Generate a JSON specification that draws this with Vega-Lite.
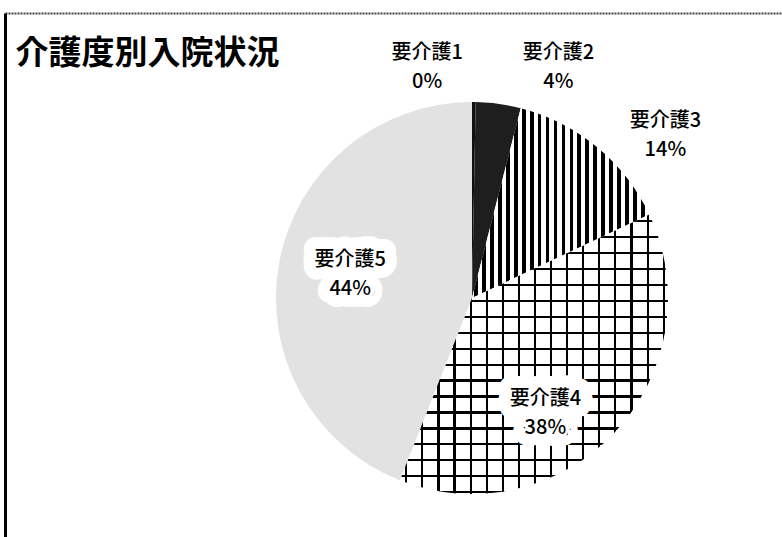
{
  "$schema": "https://vega.github.io/schema/vega-lite/v6.json",
  "width": 782,
  "height": 537,
  "autosize": {"type": "fit", "contains": "padding"},
  "padding": {"left": 5, "top": 13, "right": 0, "bottom": 0},
  "background": "white",
  "data": {
    "values": [
      {"level": "要介護1", "share": 0.3},
      {"level": "要介護2", "share": 3.7},
      {"level": "要介護3", "share": 14},
      {"level": "要介護4", "share": 38},
      {"level": "要介護5", "share": 44}
    ]
  },
  "transform": [
    {"calculate": "datum.level + '\\n' + format(datum.share / 100, '.0%')", "as": "label"}
  ],
  "encoding": {
    "x": {
      "datum": 0.601,
      "type": "quantitative",
      "scale": {"domain": [0, 1]},
      "axis": {
        "orient": "top",
        "domainDash": [2, 1],
        "domainWidth": 2,
        "domainColor": "#444",
        "title": "介護度別入院状況",
        "titleX": 10,
        "titleY": 40,
        "titleAlign": "left",
        "titleAnchor": "start",
        "titleBaseline": "middle",
        "titleFont": "Noto Sans CJK JP",
        "titleFontSize": 33,
        "titleFontWeight": "bold",
        "titleColor": "black"
      }
    },
    "y": {
      "datum": 0.456,
      "type": "quantitative",
      "scale": {"domain": [0, 1]},
      "axis": {"orient": "left", "domainWidth": 3, "domainColor": "black"}
    },
    "theta": {"field": "share", "type": "quantitative", "stack": true},
    "order": {"field": "level", "type": "ordinal", "sort": "ascending"}
  },
  "layer": [
    {
      "mark": {"type": "arc", "outerRadius": 196},
      "encoding": {
        "fill": {
          "condition": [
            {"test": "datum.level === '要介護1'", "value": "#111111"},
            {"test": "datum.level === '要介護2'", "value": "#1e1e1e"},
            {
              "test": "datum.level === '要介護3'",
              "value": {
                "gradient": "linear", "x1": 0, "y1": 0, "x2": 1, "y2": 0,
                "stops": [
                  {"offset": 0, "color": "white"},
                  {"offset": 0.010, "color": "white"}, {"offset": 0.010, "color": "black"}, {"offset": 0.032, "color": "black"}, {"offset": 0.032, "color": "white"},
                  {"offset": 0.055, "color": "white"}, {"offset": 0.055, "color": "black"}, {"offset": 0.077, "color": "black"}, {"offset": 0.077, "color": "white"},
                  {"offset": 0.100, "color": "white"}, {"offset": 0.100, "color": "black"}, {"offset": 0.122, "color": "black"}, {"offset": 0.122, "color": "white"},
                  {"offset": 0.145, "color": "white"}, {"offset": 0.145, "color": "black"}, {"offset": 0.167, "color": "black"}, {"offset": 0.167, "color": "white"},
                  {"offset": 0.190, "color": "white"}, {"offset": 0.190, "color": "black"}, {"offset": 0.212, "color": "black"}, {"offset": 0.212, "color": "white"},
                  {"offset": 0.235, "color": "white"}, {"offset": 0.235, "color": "black"}, {"offset": 0.257, "color": "black"}, {"offset": 0.257, "color": "white"},
                  {"offset": 0.280, "color": "white"}, {"offset": 0.280, "color": "black"}, {"offset": 0.302, "color": "black"}, {"offset": 0.302, "color": "white"},
                  {"offset": 0.325, "color": "white"}, {"offset": 0.325, "color": "black"}, {"offset": 0.347, "color": "black"}, {"offset": 0.347, "color": "white"},
                  {"offset": 0.370, "color": "white"}, {"offset": 0.370, "color": "black"}, {"offset": 0.392, "color": "black"}, {"offset": 0.392, "color": "white"},
                  {"offset": 0.415, "color": "white"}, {"offset": 0.415, "color": "black"}, {"offset": 0.437, "color": "black"}, {"offset": 0.437, "color": "white"},
                  {"offset": 0.460, "color": "white"}, {"offset": 0.460, "color": "black"}, {"offset": 0.482, "color": "black"}, {"offset": 0.482, "color": "white"},
                  {"offset": 0.505, "color": "white"}, {"offset": 0.505, "color": "black"}, {"offset": 0.527, "color": "black"}, {"offset": 0.527, "color": "white"},
                  {"offset": 0.550, "color": "white"}, {"offset": 0.550, "color": "black"}, {"offset": 0.572, "color": "black"}, {"offset": 0.572, "color": "white"},
                  {"offset": 0.595, "color": "white"}, {"offset": 0.595, "color": "black"}, {"offset": 0.617, "color": "black"}, {"offset": 0.617, "color": "white"},
                  {"offset": 0.640, "color": "white"}, {"offset": 0.640, "color": "black"}, {"offset": 0.662, "color": "black"}, {"offset": 0.662, "color": "white"},
                  {"offset": 0.685, "color": "white"}, {"offset": 0.685, "color": "black"}, {"offset": 0.707, "color": "black"}, {"offset": 0.707, "color": "white"},
                  {"offset": 0.730, "color": "white"}, {"offset": 0.730, "color": "black"}, {"offset": 0.752, "color": "black"}, {"offset": 0.752, "color": "white"},
                  {"offset": 0.775, "color": "white"}, {"offset": 0.775, "color": "black"}, {"offset": 0.797, "color": "black"}, {"offset": 0.797, "color": "white"},
                  {"offset": 0.820, "color": "white"}, {"offset": 0.820, "color": "black"}, {"offset": 0.842, "color": "black"}, {"offset": 0.842, "color": "white"},
                  {"offset": 0.865, "color": "white"}, {"offset": 0.865, "color": "black"}, {"offset": 0.887, "color": "black"}, {"offset": 0.887, "color": "white"},
                  {"offset": 0.910, "color": "white"}, {"offset": 0.910, "color": "black"}, {"offset": 0.932, "color": "black"}, {"offset": 0.932, "color": "white"},
                  {"offset": 0.955, "color": "white"}, {"offset": 0.955, "color": "black"}, {"offset": 0.977, "color": "black"}, {"offset": 0.977, "color": "white"},
                  {"offset": 1, "color": "white"}
                ]
              }
            },
            {
              "test": "datum.level === '要介護4'",
              "value": {
                "gradient": "linear", "x1": 0, "y1": 0, "x2": 0, "y2": 1,
                "stops": [
                  {"offset": 0, "color": "white"},
                  {"offset": 0.020, "color": "white"}, {"offset": 0.020, "color": "black"}, {"offset": 0.028, "color": "black"}, {"offset": 0.028, "color": "white"},
                  {"offset": 0.077, "color": "white"}, {"offset": 0.077, "color": "black"}, {"offset": 0.085, "color": "black"}, {"offset": 0.085, "color": "white"},
                  {"offset": 0.134, "color": "white"}, {"offset": 0.134, "color": "black"}, {"offset": 0.142, "color": "black"}, {"offset": 0.142, "color": "white"},
                  {"offset": 0.191, "color": "white"}, {"offset": 0.191, "color": "black"}, {"offset": 0.199, "color": "black"}, {"offset": 0.199, "color": "white"},
                  {"offset": 0.248, "color": "white"}, {"offset": 0.248, "color": "black"}, {"offset": 0.256, "color": "black"}, {"offset": 0.256, "color": "white"},
                  {"offset": 0.305, "color": "white"}, {"offset": 0.305, "color": "black"}, {"offset": 0.313, "color": "black"}, {"offset": 0.313, "color": "white"},
                  {"offset": 0.362, "color": "white"}, {"offset": 0.362, "color": "black"}, {"offset": 0.370, "color": "black"}, {"offset": 0.370, "color": "white"},
                  {"offset": 0.419, "color": "white"}, {"offset": 0.419, "color": "black"}, {"offset": 0.427, "color": "black"}, {"offset": 0.427, "color": "white"},
                  {"offset": 0.476, "color": "white"}, {"offset": 0.476, "color": "black"}, {"offset": 0.484, "color": "black"}, {"offset": 0.484, "color": "white"},
                  {"offset": 0.533, "color": "white"}, {"offset": 0.533, "color": "black"}, {"offset": 0.541, "color": "black"}, {"offset": 0.541, "color": "white"},
                  {"offset": 0.590, "color": "white"}, {"offset": 0.590, "color": "black"}, {"offset": 0.598, "color": "black"}, {"offset": 0.598, "color": "white"},
                  {"offset": 0.647, "color": "white"}, {"offset": 0.647, "color": "black"}, {"offset": 0.655, "color": "black"}, {"offset": 0.655, "color": "white"},
                  {"offset": 0.704, "color": "white"}, {"offset": 0.704, "color": "black"}, {"offset": 0.712, "color": "black"}, {"offset": 0.712, "color": "white"},
                  {"offset": 0.761, "color": "white"}, {"offset": 0.761, "color": "black"}, {"offset": 0.769, "color": "black"}, {"offset": 0.769, "color": "white"},
                  {"offset": 0.818, "color": "white"}, {"offset": 0.818, "color": "black"}, {"offset": 0.826, "color": "black"}, {"offset": 0.826, "color": "white"},
                  {"offset": 0.875, "color": "white"}, {"offset": 0.875, "color": "black"}, {"offset": 0.883, "color": "black"}, {"offset": 0.883, "color": "white"},
                  {"offset": 0.932, "color": "white"}, {"offset": 0.932, "color": "black"}, {"offset": 0.940, "color": "black"}, {"offset": 0.940, "color": "white"},
                  {"offset": 0.989, "color": "white"}, {"offset": 0.989, "color": "black"}, {"offset": 0.997, "color": "black"}, {"offset": 0.997, "color": "white"},
                  {"offset": 1, "color": "white"}
                ]
              }
            }
          ],
          "value": "#e2e2e2"
        }
      }
    },
    {
      "mark": {"type": "arc", "outerRadius": 196},
      "encoding": {
        "fill": {
          "condition": {
            "test": "datum.level === '要介護4'",
            "value": {
              "gradient": "linear", "x1": 0, "y1": 0, "x2": 1, "y2": 0,
              "stops": [
                {"offset": 0, "color": "rgba(0,0,0,0)"},
                {"offset": 0.020, "color": "rgba(0,0,0,0)"}, {"offset": 0.020, "color": "black"}, {"offset": 0.028, "color": "black"}, {"offset": 0.028, "color": "rgba(0,0,0,0)"},
                {"offset": 0.080, "color": "rgba(0,0,0,0)"}, {"offset": 0.080, "color": "black"}, {"offset": 0.088, "color": "black"}, {"offset": 0.088, "color": "rgba(0,0,0,0)"},
                {"offset": 0.140, "color": "rgba(0,0,0,0)"}, {"offset": 0.140, "color": "black"}, {"offset": 0.148, "color": "black"}, {"offset": 0.148, "color": "rgba(0,0,0,0)"},
                {"offset": 0.200, "color": "rgba(0,0,0,0)"}, {"offset": 0.200, "color": "black"}, {"offset": 0.208, "color": "black"}, {"offset": 0.208, "color": "rgba(0,0,0,0)"},
                {"offset": 0.260, "color": "rgba(0,0,0,0)"}, {"offset": 0.260, "color": "black"}, {"offset": 0.268, "color": "black"}, {"offset": 0.268, "color": "rgba(0,0,0,0)"},
                {"offset": 0.320, "color": "rgba(0,0,0,0)"}, {"offset": 0.320, "color": "black"}, {"offset": 0.328, "color": "black"}, {"offset": 0.328, "color": "rgba(0,0,0,0)"},
                {"offset": 0.380, "color": "rgba(0,0,0,0)"}, {"offset": 0.380, "color": "black"}, {"offset": 0.388, "color": "black"}, {"offset": 0.388, "color": "rgba(0,0,0,0)"},
                {"offset": 0.440, "color": "rgba(0,0,0,0)"}, {"offset": 0.440, "color": "black"}, {"offset": 0.448, "color": "black"}, {"offset": 0.448, "color": "rgba(0,0,0,0)"},
                {"offset": 0.500, "color": "rgba(0,0,0,0)"}, {"offset": 0.500, "color": "black"}, {"offset": 0.508, "color": "black"}, {"offset": 0.508, "color": "rgba(0,0,0,0)"},
                {"offset": 0.560, "color": "rgba(0,0,0,0)"}, {"offset": 0.560, "color": "black"}, {"offset": 0.568, "color": "black"}, {"offset": 0.568, "color": "rgba(0,0,0,0)"},
                {"offset": 0.620, "color": "rgba(0,0,0,0)"}, {"offset": 0.620, "color": "black"}, {"offset": 0.628, "color": "black"}, {"offset": 0.628, "color": "rgba(0,0,0,0)"},
                {"offset": 0.680, "color": "rgba(0,0,0,0)"}, {"offset": 0.680, "color": "black"}, {"offset": 0.688, "color": "black"}, {"offset": 0.688, "color": "rgba(0,0,0,0)"},
                {"offset": 0.740, "color": "rgba(0,0,0,0)"}, {"offset": 0.740, "color": "black"}, {"offset": 0.748, "color": "black"}, {"offset": 0.748, "color": "rgba(0,0,0,0)"},
                {"offset": 0.800, "color": "rgba(0,0,0,0)"}, {"offset": 0.800, "color": "black"}, {"offset": 0.808, "color": "black"}, {"offset": 0.808, "color": "rgba(0,0,0,0)"},
                {"offset": 0.860, "color": "rgba(0,0,0,0)"}, {"offset": 0.860, "color": "black"}, {"offset": 0.868, "color": "black"}, {"offset": 0.868, "color": "rgba(0,0,0,0)"},
                {"offset": 0.920, "color": "rgba(0,0,0,0)"}, {"offset": 0.920, "color": "black"}, {"offset": 0.928, "color": "black"}, {"offset": 0.928, "color": "rgba(0,0,0,0)"},
                {"offset": 0.980, "color": "rgba(0,0,0,0)"}, {"offset": 0.980, "color": "black"}, {"offset": 0.988, "color": "black"}, {"offset": 0.988, "color": "rgba(0,0,0,0)"},
                {"offset": 1, "color": "rgba(0,0,0,0)"}
              ]
            }
          },
          "value": "rgba(0,0,0,0)"
        }
      }
    },
    {
      "mark": {"type": "text", "radius": 124, "dy": -15, "fill": "white", "stroke": "white", "strokeWidth": 24, "strokeJoin": "round"},
      "encoding": {
        "text": {"field": "label"},
        "opacity": {"condition": {"test": "datum.level === '要介護5'", "value": 1}, "value": 0}
      }
    },
    {
      "mark": {"type": "text", "radius": 135, "dx": -25, "dy": 9, "fill": "white", "stroke": "white", "strokeWidth": 24, "strokeJoin": "round"},
      "encoding": {
        "text": {"field": "label"},
        "opacity": {"condition": {"test": "datum.level === '要介護4'", "value": 1}, "value": 0}
      }
    },
    {
      "mark": {"type": "text", "radius": 124, "dy": -15},
      "encoding": {
        "text": {"field": "label"},
        "opacity": {"condition": {"test": "datum.level === '要介護5'", "value": 1}, "value": 0}
      }
    },
    {
      "mark": {"type": "text", "radius": 135, "dx": -25, "dy": 9},
      "encoding": {
        "text": {"field": "label"},
        "opacity": {"condition": {"test": "datum.level === '要介護4'", "value": 1}, "value": 0}
      }
    },
    {
      "mark": {"type": "text", "radius": 214, "dx": 57, "dy": -12},
      "encoding": {
        "text": {"field": "label"},
        "opacity": {"condition": {"test": "datum.level === '要介護3'", "value": 1}, "value": 0}
      }
    },
    {
      "mark": {"type": "text", "radius": 233, "dx": 55, "dy": -14},
      "encoding": {
        "text": {"field": "label"},
        "opacity": {"condition": {"test": "datum.level === '要介護2'", "value": 1}, "value": 0}
      }
    },
    {
      "mark": {"type": "text", "radius": 231, "dx": -47, "dy": -14},
      "encoding": {
        "text": {"field": "label"},
        "opacity": {"condition": {"test": "datum.level === '要介護1'", "value": 1}, "value": 0}
      }
    }
  ],
  "config": {
    "view": {"stroke": null},
    "axis": {"ticks": false, "labels": false, "grid": false, "title": null},
    "text": {
      "font": "Noto Sans CJK JP",
      "fontSize": 20,
      "fontWeight": 500,
      "color": "black",
      "align": "center",
      "baseline": "middle",
      "lineBreak": "\n",
      "lineHeight": 29
    }
  }
}
